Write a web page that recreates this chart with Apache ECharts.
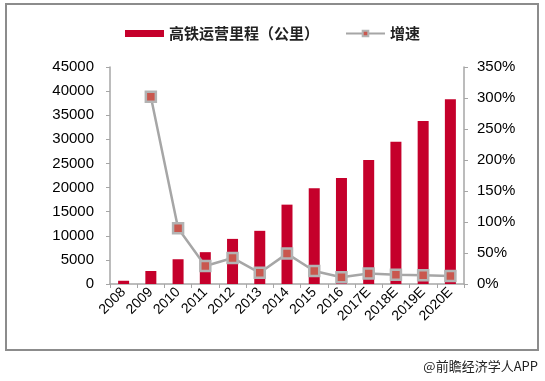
<!DOCTYPE html>
<html>
<head>
<meta charset="utf-8">
<script src="https://cdn.jsdelivr.net/npm/echarts@6/dist/echarts.min.js"></script>
<style>html,body{margin:0;padding:0;background:#fff;}#c{width:545px;height:381px;}</style>
</head>
<body>
<div id="c"></div>
<script>
const categories = ['2008','2009','2010','2011','2012','2013','2014','2015','2016','2017E','2018E','2019E','2020E'];
const mileage = [672, 2699, 5133, 6601, 9356, 11028, 16456, 19838, 22000, 25700, 29500, 33800, 38300];
const growth = [null, 302, 90, 29, 42, 18, 49, 21, 11, 17, 15, 14, 13];
const leftTicks = [0, 45000, 5000];
const rightTicks = [0, 350, 50];

const chart = echarts.init(document.getElementById('c'), null, {renderer: 'canvas'});
const axisGray = '#A6A6A6';
const labelFont = {color: '#000', fontSize: 15, fontFamily: 'Liberation Sans, Arial, sans-serif'};
chart.setOption({
  animation: false,
  backgroundColor: '#fff',
  legend: {
    top: 21,
    left: 'center',
    itemGap: 26,
    itemWidth: 39,
    itemHeight: 7,
    textStyle: {fontSize: 15, fontWeight: 'bold', color: '#222', fontFamily: 'Noto Sans CJK SC'},
    data: [
      {name: '高铁运营里程（公里）', icon: 'rect'},
      {name: '增速'}
    ]
  },
  grid: {left: 110, right: 81, top: 67, bottom: 97},
  xAxis: {
    type: 'category',
    data: categories,
    axisLine: {lineStyle: {color: axisGray, width: 1.5}},
    axisTick: {show: true, length: 4, lineStyle: {color: axisGray}},
    axisLabel: Object.assign({rotate: 45, margin: 6, interval: 0}, labelFont, {fontSize: 14})
  },
  yAxis: [
    {
      type: 'value', min: leftTicks[0], max: leftTicks[1], interval: leftTicks[2],
      axisLine: {show: true, lineStyle: {color: axisGray, width: 1.5}},
      axisTick: {show: true, length: 4, lineStyle: {color: axisGray}},
      splitLine: {show: false},
      axisLabel: Object.assign({margin: 16, formatter: v => String(v)}, labelFont)
    },
    {
      type: 'value', min: rightTicks[0], max: rightTicks[1], interval: rightTicks[2],
      position: 'right',
      axisLine: {show: true, lineStyle: {color: axisGray, width: 1.5}},
      axisTick: {show: true, length: 4, lineStyle: {color: axisGray}},
      splitLine: {show: false},
      axisLabel: Object.assign({margin: 13, formatter: '{value}%'}, labelFont)
    }
  ],
  series: [
    {
      name: '高铁运营里程（公里）',
      type: 'bar',
      data: mileage,
      barWidth: 11,
      itemStyle: {color: '#C5002B'}
    },
    {
      name: '增速',
      type: 'line',
      yAxisIndex: 1,
      data: growth,
      symbol: 'rect',
      symbolSize: 10,
      lineStyle: {color: '#A6A6A6', width: 2.5},
      itemStyle: {color: '#C9574E', borderColor: '#B3B3B3', borderWidth: 2.5}
    }
  ],
  graphic: [
    {type: 'rect', shape: {x: 6, y: 4, width: 532, height: 346}, style: {fill: 'none', stroke: '#8C8C8C', lineWidth: 2}, silent: true},
    {type: 'text', right: 7, top: 360, style: {text: '@前瞻经济学人APP', fill: '#222', fontSize: 13, fontFamily: 'Noto Sans CJK SC'}}
  ]
});
</script>
</body>
</html>
